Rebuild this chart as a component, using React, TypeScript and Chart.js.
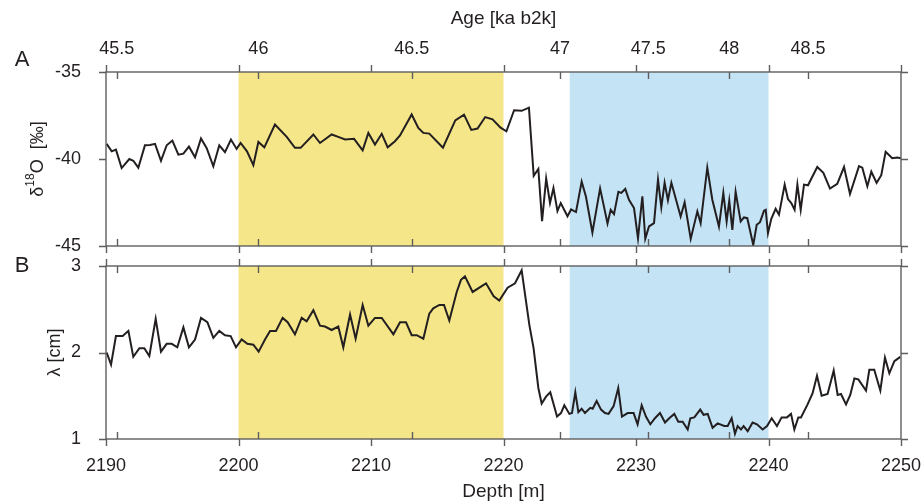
import React, { useEffect, useRef } from 'react';
import { Chart, registerables } from 'chart.js';
Chart.register(...registerables);

// ---------- data ----------
const depthA = [2190.05, 2190.43, 2190.75, 2191.18, 2191.76, 2192.06, 2192.44, 2192.94, 2193.32, 2193.70, 2194.15, 2194.58, 2195.01, 2195.46, 2195.84, 2196.26, 2196.72, 2197.17, 2197.60, 2198.10, 2198.55, 2198.98, 2199.43, 2199.86, 2200.16, 2200.64, 2201.12, 2201.50, 2201.95, 2202.75, 2203.64, 2204.26, 2204.69, 2205.65, 2206.15, 2207.03, 2207.53, 2208.04, 2208.72, 2209.37, 2209.80, 2210.30, 2210.81, 2211.26, 2211.81, 2212.19, 2213.07, 2213.57, 2213.95, 2214.40, 2215.43, 2216.36, 2217.02, 2217.57, 2218.04, 2218.62, 2219.17, 2219.78, 2220.22, 2220.80, 2221.37, 2221.92, 2222.28, 2222.63, 2222.91, 2223.22, 2223.51, 2223.77, 2224.07, 2224.32, 2224.83, 2225.10, 2225.47, 2225.90, 2226.22, 2226.71, 2227.29, 2227.85, 2228.09, 2228.34, 2228.67, 2228.89, 2229.19, 2229.47, 2229.85, 2230.15, 2230.48, 2230.70, 2230.98, 2231.36, 2231.66, 2231.91, 2232.16, 2232.41, 2232.67, 2233.37, 2233.67, 2234.13, 2234.63, 2234.88, 2235.38, 2235.76, 2236.26, 2236.59, 2236.84, 2237.04, 2237.27, 2237.52, 2237.90, 2238.15, 2238.40, 2238.85, 2239.11, 2239.36, 2239.66, 2239.79, 2239.96, 2240.21, 2240.54, 2240.79, 2241.22, 2241.47, 2241.72, 2241.97, 2242.18, 2242.43, 2242.68, 2242.98, 2243.68, 2244.14, 2244.64, 2245.19, 2245.70, 2246.15, 2246.83, 2247.08, 2247.46, 2247.76, 2248.16, 2248.51, 2248.84, 2249.34, 2249.72, 2250.00];
const d18O = [-39.13, -39.56, -39.46, -40.52, -40.00, -40.10, -40.50, -39.21, -39.19, -39.13, -40.10, -39.21, -38.94, -39.75, -39.69, -39.29, -39.90, -38.82, -39.38, -40.42, -39.21, -39.61, -38.88, -39.42, -39.08, -39.56, -40.35, -39.02, -39.33, -38.02, -38.73, -39.36, -39.36, -38.59, -39.08, -38.59, -38.73, -38.88, -38.84, -39.50, -38.50, -39.17, -38.55, -39.33, -38.98, -38.65, -37.44, -38.21, -38.50, -38.54, -39.35, -37.78, -37.45, -38.33, -38.25, -37.59, -37.72, -38.20, -38.41, -37.20, -37.23, -37.05, -40.97, -40.57, -43.57, -41.12, -42.53, -41.67, -42.99, -42.53, -43.29, -42.90, -43.05, -41.30, -42.16, -44.22, -41.69, -43.70, -42.92, -43.17, -41.89, -41.95, -41.72, -42.34, -42.82, -44.56, -42.14, -44.58, -43.88, -43.69, -41.18, -42.78, -41.37, -42.37, -41.37, -43.30, -42.49, -44.59, -43.01, -43.69, -40.50, -42.34, -43.88, -41.95, -43.59, -42.39, -44.07, -41.89, -43.59, -43.36, -43.40, -44.94, -43.78, -43.63, -42.97, -42.92, -44.27, -43.44, -42.86, -43.20, -41.47, -42.30, -42.53, -42.92, -41.47, -42.92, -41.47, -41.51, -40.46, -40.79, -41.70, -41.43, -40.46, -42.01, -40.41, -40.50, -41.56, -40.73, -41.37, -40.93, -39.58, -39.96, -39.92, -39.96];

const depthB = [2190.05, 2190.38, 2190.75, 2191.26, 2191.69, 2192.06, 2192.52, 2192.89, 2193.27, 2193.75, 2194.15, 2194.58, 2194.96, 2195.38, 2195.84, 2196.26, 2196.72, 2197.17, 2197.65, 2198.10, 2198.55, 2198.98, 2199.41, 2199.81, 2200.24, 2200.67, 2201.12, 2201.52, 2202.00, 2202.38, 2202.83, 2203.33, 2203.71, 2204.26, 2204.77, 2205.14, 2205.65, 2206.15, 2206.53, 2207.03, 2207.53, 2207.91, 2208.42, 2208.84, 2209.37, 2209.80, 2210.30, 2210.81, 2211.69, 2212.19, 2212.64, 2213.07, 2213.45, 2213.95, 2214.40, 2214.70, 2215.16, 2215.51, 2215.91, 2216.47, 2216.79, 2217.09, 2217.67, 2218.68, 2219.26, 2219.68, 2220.31, 2220.87, 2221.37, 2221.95, 2222.27, 2222.63, 2222.88, 2223.21, 2223.53, 2224.04, 2224.34, 2224.59, 2224.97, 2225.17, 2225.42, 2225.65, 2225.90, 2226.15, 2226.55, 2226.73, 2227.03, 2227.36, 2227.66, 2227.93, 2228.31, 2228.66, 2228.94, 2229.37, 2229.82, 2230.12, 2230.43, 2230.75, 2231.08, 2231.43, 2231.81, 2232.19, 2232.51, 2232.89, 2233.19, 2233.52, 2233.90, 2234.10, 2234.40, 2234.85, 2235.10, 2235.41, 2235.78, 2236.16, 2236.66, 2236.92, 2237.22, 2237.47, 2237.67, 2237.92, 2238.12, 2238.43, 2238.80, 2239.13, 2239.56, 2239.89, 2240.24, 2240.64, 2240.99, 2241.39, 2241.70, 2241.95, 2242.25, 2242.45, 2242.95, 2243.33, 2243.66, 2244.01, 2244.46, 2244.92, 2245.22, 2245.47, 2245.85, 2246.17, 2246.48, 2246.78, 2247.36, 2247.61, 2247.98, 2248.44, 2248.79, 2249.12, 2249.50, 2249.95];
const lambda = [2.00, 1.86, 2.19, 2.19, 2.25, 1.95, 2.05, 2.05, 1.96, 2.39, 2.01, 2.10, 2.10, 2.06, 2.29, 2.06, 2.15, 2.40, 2.35, 2.17, 2.25, 2.20, 2.19, 2.06, 2.15, 2.10, 2.09, 2.01, 2.15, 2.25, 2.25, 2.40, 2.35, 2.21, 2.40, 2.36, 2.49, 2.31, 2.30, 2.26, 2.30, 2.06, 2.44, 2.16, 2.55, 2.31, 2.40, 2.40, 2.21, 2.35, 2.35, 2.20, 2.20, 2.16, 2.45, 2.51, 2.55, 2.55, 2.37, 2.70, 2.84, 2.88, 2.70, 2.80, 2.65, 2.60, 2.75, 2.80, 2.95, 2.32, 2.05, 1.59, 1.41, 1.49, 1.54, 1.26, 1.30, 1.39, 1.29, 1.30, 1.54, 1.31, 1.35, 1.30, 1.36, 1.35, 1.44, 1.34, 1.30, 1.29, 1.38, 1.59, 1.26, 1.30, 1.30, 1.17, 1.39, 1.26, 1.17, 1.24, 1.30, 1.19, 1.24, 1.29, 1.20, 1.20, 1.11, 1.24, 1.25, 1.34, 1.28, 1.29, 1.13, 1.18, 1.15, 1.15, 1.24, 1.06, 1.15, 1.11, 1.15, 1.09, 1.19, 1.17, 1.11, 1.15, 1.24, 1.15, 1.25, 1.25, 1.29, 1.11, 1.25, 1.25, 1.40, 1.53, 1.73, 1.50, 1.52, 1.79, 1.51, 1.52, 1.40, 1.51, 1.70, 1.69, 1.56, 1.80, 1.80, 1.56, 1.94, 1.76, 1.90, 1.95];

const depthTicks = [2190, 2200, 2210, 2220, 2230, 2240, 2250];
const ageTickLabels = ['45.5', '46', '46.5', '47', '47.5', '48', '48.5'];
const ageTickDepths = [2190.81, 2201.5, 2213.07, 2224.26, 2230.92, 2237.04, 2242.98];
const yTicksA = [-45, -40, -35];
const yTicksB = [1, 2, 3];
const yellowBand = [2200, 2220];
const blueBand = [2225, 2240];

// ---------- layout / style ----------
const W = 922;
const H = 503;
const PLOT_LEFT = 106;
const PLOT_RIGHT = 901;
const A_TOP = 72;
const A_BOTTOM = 246;
const B_TOP = 266;
const B_BOTTOM = 439;
const FONT = "'Liberation Sans', Arial, Helvetica, sans-serif";
const TEXT = '#231f20';
const FRAME = '#5e5e5e';
const LINE = '#231f20';
const YELLOW = '#f5e68a';
const BLUE = '#c4e3f4';
const TL = 7;

const decor = {
  id: 'decor',
  beforeDatasetsDraw(chart: any) {
    const { ctx, chartArea: a } = chart;
    const x = chart.scales.x;
    ctx.save();
    const bands = [
      { r: yellowBand, c: YELLOW },
      { r: blueBand, c: BLUE },
    ];
    for (const b of bands) {
      const x1 = x.getPixelForValue(b.r[0]);
      const x2 = x.getPixelForValue(b.r[1]);
      ctx.fillStyle = b.c;
      ctx.fillRect(x1, a.top, x2 - x1, a.bottom - a.top);
    }
    ctx.restore();
  },
  afterDatasetsDraw(chart: any, _a: any, opts: any) {
    const { ctx, chartArea: a } = chart;
    const x = chart.scales.x;
    const y = chart.scales.y;
    ctx.save();
    ctx.strokeStyle = FRAME;
    ctx.lineWidth = 1.4;
    ctx.strokeRect(a.left, a.top, a.right - a.left, a.bottom - a.top);
    ctx.beginPath();
    for (const d of depthTicks) {
      const px = Math.round(x.getPixelForValue(d)) + 0.5;
      ctx.moveTo(px, a.top);
      ctx.lineTo(px, a.top - TL);
      ctx.moveTo(px, a.bottom);
      ctx.lineTo(px, a.bottom + TL);
    }
    for (const d of ageTickDepths) {
      const px = Math.round(x.getPixelForValue(d)) + 0.5;
      ctx.moveTo(px, a.top);
      ctx.lineTo(px, a.top + TL);
      ctx.moveTo(px, a.bottom);
      ctx.lineTo(px, a.bottom - TL);
    }
    for (const v of opts.yTicks) {
      const py = Math.round(y.getPixelForValue(v)) + 0.5;
      ctx.moveTo(a.left, py);
      ctx.lineTo(a.left - TL, py);
      ctx.moveTo(a.right, py);
      ctx.lineTo(a.right + TL, py);
    }
    ctx.stroke();

    // panel letter
    ctx.fillStyle = TEXT;
    ctx.font = `22px ${FONT}`;
    ctx.textAlign = 'center';
    ctx.textBaseline = 'middle';
    ctx.fillText(opts.letter, opts.letterX, opts.letterY);

    // rotated y title with optional superscript
    const parts: { t: string; s: number; dy: number }[] = opts.title;
    ctx.translate(opts.titleX, (a.top + a.bottom) / 2);
    ctx.rotate(-Math.PI / 2);
    let total = 0;
    for (const p of parts) {
      ctx.font = `${p.s}px ${FONT}`;
      total += ctx.measureText(p.t).width;
    }
    let cx = -total / 2;
    ctx.textAlign = 'left';
    ctx.textBaseline = 'middle';
    for (const p of parts) {
      ctx.font = `${p.s}px ${FONT}`;
      ctx.fillText(p.t, cx, p.dy);
      cx += ctx.measureText(p.t).width;
    }
    ctx.restore();
  },
};

function fixedTicks(list: number[]) {
  return (s: any) => {
    s.ticks = list.map((v) => ({ value: v }));
  };
}

export default function App() {
  const refA = useRef<HTMLCanvasElement>(null);
  const refB = useRef<HTMLCanvasElement>(null);

  useEffect(() => {
    const tickFont = { family: FONT, size: 18 };
    const titleFont = { family: FONT, size: 19 };
    const chartA = new Chart(refA.current as HTMLCanvasElement, {
      type: 'line',
      data: {
        datasets: [
          {
            data: depthA.map((d, i) => ({ x: d, y: d18O[i] })),
            borderColor: LINE,
            borderWidth: 2,
            pointRadius: 0,
            tension: 0,
            xAxisID: 'x',
            yAxisID: 'y',
          },
        ],
      },
      options: {
        responsive: false,
        animation: false,
        events: [],
        layout: { padding: { left: 0, right: W - PLOT_RIGHT, top: 0, bottom: H - A_BOTTOM } },
        plugins: {
          legend: { display: false },
          tooltip: { enabled: false },
          decor: {
            yTicks: yTicksA,
            letter: 'A',
            letterX: 22,
            letterY: 60,
            titleX: 38,
            title: [
              { t: 'δ', s: 18, dy: 0 },
              { t: '18', s: 12, dy: -7 },
              { t: 'O  [‰]', s: 18, dy: 0 },
            ],
          },
        } as any,
        scales: {
          x: { type: 'linear', min: 2190, max: 2250, display: false },
          age: {
            type: 'linear',
            axis: 'x',
            position: 'top',
            min: 2190,
            max: 2250,
            afterBuildTicks: fixedTicks(ageTickDepths),
            afterFit: (s: any) => {
              s.height = A_TOP;
              s.paddingLeft = 0;
              s.paddingRight = 0;
            },
            grid: { display: false },
            border: { display: false },
            ticks: {
              autoSkip: false,
              maxRotation: 0,
              padding: 4,
              color: TEXT,
              font: tickFont,
              callback: (_v: any, i: number) => ageTickLabels[i],
            },
            title: {
              display: true,
              text: 'Age [ka b2k]',
              color: TEXT,
              font: titleFont,
              padding: { top: 7, bottom: 0 },
            },
          } as any,
          y: {
            type: 'linear',
            position: 'left',
            min: -45,
            max: -35,
            afterBuildTicks: fixedTicks(yTicksA),
            afterFit: (s: any) => {
              s.width = PLOT_LEFT;
              s.paddingTop = 0;
              s.paddingBottom = 0;
            },
            grid: { display: false },
            border: { display: false },
            ticks: { padding: 17, color: TEXT, font: tickFont },
          },
        },
      },
      plugins: [decor as any],
    });

    const chartB = new Chart(refB.current as HTMLCanvasElement, {
      type: 'line',
      data: {
        datasets: [
          {
            data: depthB.map((d, i) => ({ x: d, y: lambda[i] })),
            borderColor: LINE,
            borderWidth: 2,
            pointRadius: 0,
            tension: 0,
          },
        ],
      },
      options: {
        responsive: false,
        animation: false,
        events: [],
        layout: { padding: { left: 0, right: W - PLOT_RIGHT, top: B_TOP, bottom: 0 } },
        plugins: {
          legend: { display: false },
          tooltip: { enabled: false },
          decor: {
            yTicks: yTicksB,
            letter: 'B',
            letterX: 22,
            letterY: 266,
            titleX: 55,
            title: [{ t: 'λ [cm]', s: 18, dy: 0 }],
          },
        } as any,
        scales: {
          x: {
            type: 'linear',
            position: 'bottom',
            min: 2190,
            max: 2250,
            afterBuildTicks: fixedTicks(depthTicks),
            afterFit: (s: any) => {
              s.height = H - B_BOTTOM;
              s.paddingLeft = 0;
              s.paddingRight = 0;
            },
            grid: { display: false },
            border: { display: false },
            ticks: {
              autoSkip: false,
              maxRotation: 0,
              padding: 8,
              color: TEXT,
              font: tickFont,
              callback: (v: any) => String(v),
            },
            title: {
              display: true,
              text: 'Depth [m]',
              color: TEXT,
              font: titleFont,
              padding: { top: 0, bottom: 0 },
            },
          },
          y: {
            type: 'linear',
            position: 'left',
            min: 1,
            max: 3,
            afterBuildTicks: fixedTicks(yTicksB),
            afterFit: (s: any) => {
              s.width = PLOT_LEFT;
              s.paddingTop = 0;
              s.paddingBottom = 0;
            },
            grid: { display: false },
            border: { display: false },
            ticks: { padding: 17, color: TEXT, font: tickFont },
          },
        },
      },
      plugins: [decor as any],
    });

    return () => {
      chartA.destroy();
      chartB.destroy();
    };
  }, []);

  const canvasStyle: React.CSSProperties = { position: 'absolute', left: 0, top: 0 };
  return (
    <div style={{ position: 'fixed', left: 0, top: 0, width: W, height: H, background: '#fff' }}>
      <canvas ref={refA} width={W} height={H} style={canvasStyle} />
      <canvas ref={refB} width={W} height={H} style={canvasStyle} />
    </div>
  );
}
